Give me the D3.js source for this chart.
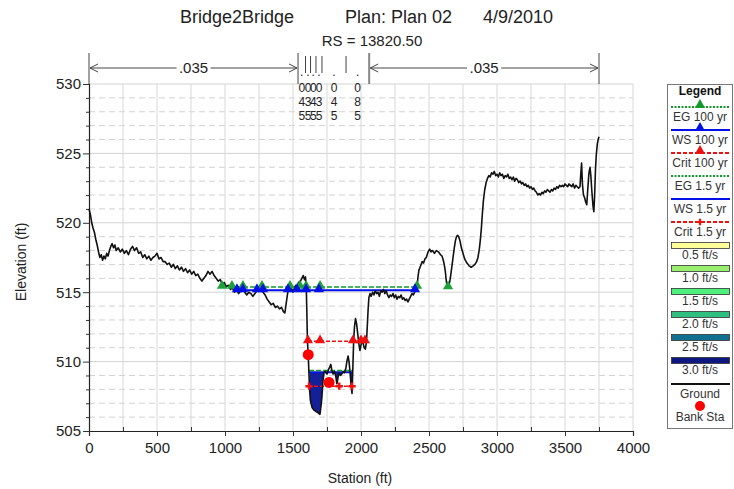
<!DOCTYPE html>
<html>
<head>
<meta charset="utf-8">
<script src="https://cdn.jsdelivr.net/npm/d3@7"></script>
<style>
  body { margin: 0; background: #fff; }
  svg { font-family: "Liberation Sans", Arial, sans-serif; }
</style>
</head>
<body>
<div id="chart"></div>
<script>
// ground profile
const groundSta = [0,10,20,30,40,50,60,70,80,90,100,110,120,130,140,150,160,170,180,190,200,215,230,245,260,275,290,305,320,335,350,365,380,395,410,425,440,455,470,485,500,515,530,545,
  560,575,590,605,620,635,650,665,680,695,710,725,740,755,770,785,800,815,830,845,860,875,890,905,920,935,950,965,980,995,1010,1025,1040,
  1055,1070,1085,1100,1115,1130,1145,1160,1175,1190,1205,1220,1235,1250,1265,1280,1295,1310,1325,1340,1355,1370,1385,1400,1415,1430,1440,1450,1460,1470,1480,1490,1500,1510,1520,1530,1540,1555,1565,1575,1585,1592,1598,1602,1606,1612,1617,1622,1628,1640,1655,1670,1685,1698,1706,1713,1720,1728,1738,1750,1760,1770,1778,1785,1795,1805,1815,1823,1830,1838,1848,1858,1868,1878,1888,1898,1905,1912,1920,1927,1934,1940,1946,1952,1960,1968,1976,1984,1992,2000,2008,2016,2024,2032,2040,2046,2052,2058,2066,
  2075,2085,2095,2105,2115,2125,2135,2145,2155,2165,2175,2185,2195,2205,2215,2225,2235,2245,2255,2265,2275,2285,2295,2305,2315,2325,2335,2345,2355,2365,2375,2385,2395,2405,2412,2419,2426,2434,2442,2450,2460,2470,2480,2493,2505,2515,2525,2540,2555,2570,2585,2596,2605,2612,2620,2626,2632,2640,2647,2655,2662,2669,2678,2686,2694,2702,2710,2718,2728,2738,2750,2762,2779,2795,2810,2825,2838,2850,2860,2870,2878,2885,2892,2900,2910,2920,2930,2940,2950,2960,2970,2980,2990,
  3000,3010,3020,3030,3040,3050,3060,3070,3080,3090,3100,3110,3120,3130,3140,3150,3160,3170,3180,3190,3200,3210,3220,3230,3240,3250,3260,3270,3280,3290,3300,3310,3320,3330,3340,3350,3360,3370,3380,3390,3400,3410,3420,3430,3440,3450,3460,3470,3480,3490,3500,3510,3520,3530,3540,3550,3560,3570,3580,3590,3600,3610,3616,3622,3628,3636,3644,3652,3660,3668,3676,3684,3690,3698,3706,3712,3718,3724,3730,3738,3744,3750];
const groundElev = [521.0,520.6,520.0,519.6,519.3,518.8,518.4,517.9,517.5,517.7,517.3,517.6,517.4,517.8,517.6,518.0,518.3,518.5,518.2,518.4,518.0,518.2,517.9,518.1,517.8,518.0,517.7,518.1,518.3,518.0,518.2,517.8,517.9,517.5,517.7,517.4,517.6,517.3,517.5,517.6,517.8,517.4,517.5,517.2,
  517.2,517.0,517.1,516.8,517.0,516.7,516.9,516.6,516.8,516.5,516.7,516.4,516.6,516.3,516.5,516.2,516.3,516.0,515.8,516.0,516.2,516.5,516.3,516.5,516.2,516.0,515.8,515.9,515.6,515.7,515.4,515.5,515.2,
  515.3,515.0,515.2,514.9,515.1,515.3,515.0,514.8,515.0,514.9,514.7,514.9,515.1,515.3,515.4,515.0,514.8,514.5,514.3,514.1,514.2,513.9,514.0,513.8,513.9,513.6,513.5,514.2,514.9,515.3,515.5,515.2,515.0,515.3,515.5,515.3,515.7,515.8,516.0,516.2,515.9,516.1,515.2,513.5,511.5,510.5,509.2,508.0,507.2,506.7,506.5,506.4,506.3,506.2,506.8,507.5,508.6,509.2,509.3,509.1,509.4,509.6,509.8,509.4,509.1,509.3,508.9,508.4,508.8,509.2,509.0,509.1,509.3,509.2,509.5,510.1,510.4,510.0,509.2,508.3,507.7,509.5,511.5,512.5,513.1,512.7,512.0,511.3,510.8,511.2,511.5,511.3,511.0,510.9,511.4,512.5,513.7,514.6,514.9,
  514.7,515.0,514.8,515.1,514.9,515.0,514.7,515.1,515.0,515.2,514.9,515.1,514.8,514.6,514.8,514.7,514.9,514.6,514.8,514.5,514.7,514.6,514.8,514.5,514.6,514.4,514.5,514.3,514.5,514.7,514.9,514.8,515.0,515.2,515.4,516.1,516.6,516.8,517.0,517.2,517.1,517.4,517.5,517.9,518.1,517.9,518.0,517.8,518.0,517.9,517.7,517.6,517.3,517.0,516.5,515.9,515.5,515.3,515.5,515.9,516.4,516.9,517.6,518.2,518.7,519.0,519.1,519.0,518.7,518.2,517.8,517.4,517.1,516.9,516.8,516.9,517.0,517.2,517.5,518.1,518.8,519.6,520.6,521.6,522.4,522.9,523.2,523.4,523.3,523.6,523.5,523.7,523.4,
  523.5,523.3,523.6,523.4,523.5,523.2,523.4,523.3,523.5,523.2,523.3,523.1,523.3,523.0,523.2,523.1,522.9,523.0,522.8,522.9,522.7,522.8,522.6,522.7,522.5,522.6,522.4,522.5,522.3,522.2,522.0,522.1,522.0,522.2,522.1,522.3,522.2,522.4,522.3,522.2,522.4,522.3,522.5,522.4,522.6,522.5,522.7,522.6,522.7,522.6,522.8,522.7,522.6,522.8,522.7,522.6,522.8,522.5,522.7,522.6,522.5,522.6,523.5,524.3,522.8,522.0,521.8,521.5,521.3,522.5,523.6,524.0,523.4,522.2,521.2,520.8,522.0,523.8,524.9,525.7,526.0,526.2];

// water surfaces: [elevation, from station, to station]
const eg100 = [515.38, 978, 2412];
const ws100 = [515.14, 1070, 2420];
const crit100 = [511.46, 1610, 2035];
const eg15 = [509.36, 1618, 1934];
const ws15 = [509.24, 1618, 1934];
const crit15 = [508.23, 1610, 1941];

const eg100Marks = [978, 1051, 1132, 1272, 1478, 1551, 1596, 1699, 2412];
const eg100Extra = [[2640, 515.35]];
const ws100Marks = [1088, 1132, 1235, 1279, 1463, 1529, 1596, 1691, 2397];
const crit100Marks = [1610, 1699, 1941, 2000, 2029];
const crit15Marks = [1618, 1840, 1934];

const bankSta = [[1612, 510.5], [1765, 508.5]];

// manning's n regions
const nBreaks = [0, 1537, 1592, 1629, 1669, 1713, 1890, 2060, 3750];
const nValues = [".035", ".045", ".035", ".045", ".035", ".045", ".085", ".035"];

const xTicks = [0, 500, 1000, 1500, 2000, 2500, 3000, 3500, 4000];
const yTicks = [505, 510, 515, 520, 525, 530];

const legendItems = ["EG 100 yr", "WS 100 yr", "Crit 100 yr", "EG 1.5 yr", "WS 1.5 yr", "Crit 1.5 yr",
  "0.5 ft/s", "1.0 ft/s", "1.5 ft/s", "2.0 ft/s", "2.5 ft/s", "3.0 ft/s", "Ground", "Bank Sta"];
const velColors = ["#ffff99", "#99ee6e", "#4cf07a", "#2fbf80", "#117090", "#0e1680"];

const width = 734, height = 489;
const svg = d3.select('#chart').append('svg')
  .attr('width', width)
  .attr('height', height);

const x = d3.scaleLinear().domain([0, 4000]).range([89, 633]);
const y = d3.scaleLinear().domain([505, 530]).range([431, 84]);

const green = '#119a2a', blue = '#0010e8', red = '#f01010';

// grid
const grid = svg.append('g');
grid.selectAll('.hmin').data(d3.range(506, 530, 1).filter(v => v % 5 !== 0))
  .enter().append('line')
  .attr('x1', x(0)).attr('x2', x(4000))
  .attr('y1', d => y(d)).attr('y2', d => y(d))
  .attr('stroke', '#d2d2d2').attr('stroke-dasharray', '6,4');
grid.selectAll('.hmaj').data([510, 515, 520, 525, 530])
  .enter().append('line')
  .attr('x1', x(0)).attr('x2', x(4000))
  .attr('y1', d => y(d)).attr('y2', d => y(d))
  .attr('stroke', '#d2d2d2');
grid.selectAll('.v').data(d3.range(250, 4001, 250))
  .enter().append('line')
  .attr('x1', d => x(d)).attr('x2', d => x(d))
  .attr('y1', y(505)).attr('y2', y(530))
  .attr('stroke', '#d8d8d8');

// axes
const yAxis = svg.append('g').attr('transform', `translate(${x(0)},0)`)
  .call(d3.axisLeft(y).tickValues(yTicks).tickSize(6).tickFormat(d3.format('d')));
svg.append('g').attr('transform', `translate(${x(0)},0)`)
  .call(d3.axisLeft(y).tickValues(d3.range(506, 530).filter(v => v % 5 !== 0)).tickSize(3).tickFormat(''))
  .select('.domain').remove();
const xAxis = svg.append('g').attr('transform', `translate(0,${y(505)})`)
  .call(d3.axisBottom(x).tickValues(xTicks).tickSize(5).tickFormat(d3.format('d')));
svg.append('g').attr('transform', `translate(0,${y(505)})`)
  .call(d3.axisBottom(x).tickValues(d3.range(250, 4000, 500)).tickSize(-4).tickFormat(''))
  .select('.domain').remove();
svg.selectAll('.domain').attr('stroke', '#222').attr('stroke-width', 1.2);
svg.selectAll('.tick line').attr('stroke', '#333');
yAxis.selectAll('text').attr('font-size', 15).attr('fill', '#222').attr('x', -8)
  .attr('font-family', '"Liberation Sans", Arial, sans-serif');
xAxis.selectAll('text').attr('font-size', 15).attr('fill', '#222').attr('dy', '0.9em')
  .attr('font-family', '"Liberation Sans", Arial, sans-serif');

// titles
svg.append('text').attr('x', 180).attr('y', 23).attr('font-size', 18).attr('fill', '#222').text('Bridge2Bridge');
svg.append('text').attr('x', 345).attr('y', 23).attr('font-size', 18).attr('fill', '#222').text('Plan: Plan 02');
svg.append('text').attr('x', 483).attr('y', 23).attr('font-size', 18).attr('fill', '#222').text('4/9/2010');
svg.append('text').attr('x', 372).attr('y', 46).attr('text-anchor', 'middle').attr('font-size', 15).attr('fill', '#222').text('RS = 13820.50');
svg.append('text').attr('x', 360).attr('y', 483).attr('text-anchor', 'middle').attr('font-size', 14).attr('fill', '#222').text('Station (ft)');
svg.append('text').attr('transform', 'translate(26,262) rotate(-90)').attr('text-anchor', 'middle')
  .attr('font-size', 14).attr('fill', '#222').text('Elevation (ft)');

// n value annotation
const nTop = svg.append('g');
nValues.forEach((v, i) => {
  const a = nBreaks[i], b = nBreaks[i + 1];
  const x0 = x(a), x1 = x(b), mid = (x0 + x1) / 2;
  if (x1 - x0 > 60) {
    nTop.append('line').attr('x1', x0 + 1).attr('x2', x1 - 1).attr('y1', 68).attr('y2', 68)
      .attr('stroke', '#444');
    nTop.append('path').attr('d', `M${x0 + 9},64 L${x0 + 1},68 L${x0 + 9},72`)
      .attr('fill', 'none').attr('stroke', '#444');
    nTop.append('path').attr('d', `M${x1 - 9},64 L${x1 - 1},68 L${x1 - 9},72`)
      .attr('fill', 'none').attr('stroke', '#444');
    nTop.append('rect').attr('x', mid - 17).attr('y', 60).attr('width', 34).attr('height', 16).attr('fill', '#fff');
    nTop.append('text').attr('x', mid).attr('y', 73).attr('text-anchor', 'middle')
      .attr('font-size', 15).attr('fill', '#222').text(v);
  } else {
    v.split('').forEach((c, k) => {
      nTop.append('text').attr('x', mid).attr('y', k === 0 ? 76 : 78 + k * 14)
        .attr('text-anchor', 'middle').attr('font-size', 12).attr('fill', '#222').text(c);
    });
  }
});
nBreaks.forEach((s, i) => {
  const outer = i === 0 || i === 1 || i === nBreaks.length - 2 || i === nBreaks.length - 1;
  nTop.append('line').attr('x1', x(s)).attr('x2', x(s))
    .attr('y1', outer ? 53 : 56).attr('y2', outer ? 84 : 73)
    .attr('stroke', i === nBreaks.length - 2 ? '#888' : '#444')
    .attr('stroke-width', i === nBreaks.length - 2 ? 2 : 1);
});

// velocity fill for the 1.5 yr profile
const ground = groundSta.map((s, i) => [s, groundElev[i]]);
const wet = ground.filter(d => d[0] >= ws15[1] && d[0] <= ws15[2]);
svg.append('path').datum(wet)
  .attr('d', d3.area().x(d => x(d[0])).y0(d => y(Math.min(d[1], ws15[0]))).y1(y(ws15[0])))
  .attr('fill', '#13209a');

// water lines
const wsLine = (w, color, dash, sw) => svg.append('line')
  .attr('x1', x(w[1])).attr('x2', x(w[2])).attr('y1', y(w[0])).attr('y2', y(w[0]))
  .attr('stroke', color).attr('stroke-width', sw).attr('stroke-dasharray', dash);

wsLine(ws100, blue, null, 2);
wsLine(eg100, green, '5,2', 1.5);
wsLine(crit100, red, '4,2', 1.5);
wsLine(crit15, red, '4,2', 1.5);
wsLine(ws15, blue, null, 2);
wsLine(eg15, green, '5,2', 1.5);

// ground
svg.append('path').datum(ground)
  .attr('d', d3.line().x(d => x(d[0])).y(d => y(d[1])))
  .attr('fill', 'none').attr('stroke', '#111').attr('stroke-width', 1.6).attr('stroke-linejoin', 'round');

const tri = d3.symbol().type(d3.symbolTriangle).size(45);
const triMarks = (stas, elev, color) => svg.selectAll(null).data(stas).enter().append('path')
  .attr('d', tri).attr('fill', color)
  .attr('transform', d => `translate(${x(d)},${y(elev) - 1})`);
triMarks(eg100Marks, eg100[0], '#1ea03a');
svg.selectAll(null).data(eg100Extra).enter().append('path')
  .attr('d', tri).attr('fill', '#1ea03a')
  .attr('transform', d => `translate(${x(d[0])},${y(d[1]) - 1})`);
triMarks(ws100Marks, ws100[0], blue);
triMarks(crit100Marks, crit100[0], red);
svg.selectAll(null).data(crit15Marks).enter().append('path')
  .attr('d', d3.symbol().type(d3.symbolCross).size(30)).attr('fill', red)
  .attr('transform', d => `translate(${x(d)},${y(crit15[0])})`);

// bank stations
svg.selectAll(null).data(bankSta).enter().append('circle')
  .attr('cx', d => x(d[0])).attr('cy', d => y(d[1])).attr('r', 5.5).attr('fill', '#f00');

// legend
const lg = svg.append('g');
lg.append('rect').attr('x', 667.5).attr('y', 84.5).attr('width', 65).attr('height', 344)
  .attr('fill', '#fff').attr('stroke', '#777');
lg.append('text').attr('x', 700).attr('y', 95).attr('text-anchor', 'middle')
  .attr('font-size', 12).attr('font-weight', 'bold').attr('fill', '#111').text('Legend');
const rowY = [107, 130, 153, 176, 199, 222, 245, 268, 291, 314, 337, 360, 384, 406];
const lineStyles = [[green, '2,1.5', 'tri'], [blue, null, 'tri'], [red, '4,2', 'tri'],
  [green, '2,1.5', null], [blue, null, null], [red, '4,2', 'cross']];
legendItems.forEach((name, i) => {
  const ly = rowY[i];
  if (i < 6) {
    const st = lineStyles[i];
    lg.append('line').attr('x1', 671).attr('x2', 730).attr('y1', ly).attr('y2', ly)
      .attr('stroke', st[0]).attr('stroke-width', 2).attr('stroke-dasharray', st[1]);
    if (st[2] === 'tri') lg.append('path').attr('d', tri).attr('fill', st[0])
      .attr('transform', `translate(700,${ly - 2})`);
    if (st[2] === 'cross') lg.append('path').attr('d', d3.symbol().type(d3.symbolCross).size(25))
      .attr('fill', st[0]).attr('transform', `translate(700,${ly})`);
  } else if (i < 12) {
    lg.append('rect').attr('x', 671.5).attr('y', ly - 2.5).attr('width', 58).attr('height', 6)
      .attr('fill', velColors[i - 6]).attr('stroke', '#333').attr('stroke-width', 0.8);
  } else if (i === 12) {
    lg.append('line').attr('x1', 671).attr('x2', 730).attr('y1', ly).attr('y2', ly)
      .attr('stroke', '#111').attr('stroke-width', 2);
  } else {
    lg.append('circle').attr('cx', 700).attr('cy', ly).attr('r', 5).attr('fill', '#f00');
  }
  lg.append('text').attr('x', 700).attr('y', i === 13 ? ly + 15 : ly + 14)
    .attr('text-anchor', 'middle').attr('font-size', 12).attr('fill', '#333').text(name);
});
</script>
</body>
</html>
